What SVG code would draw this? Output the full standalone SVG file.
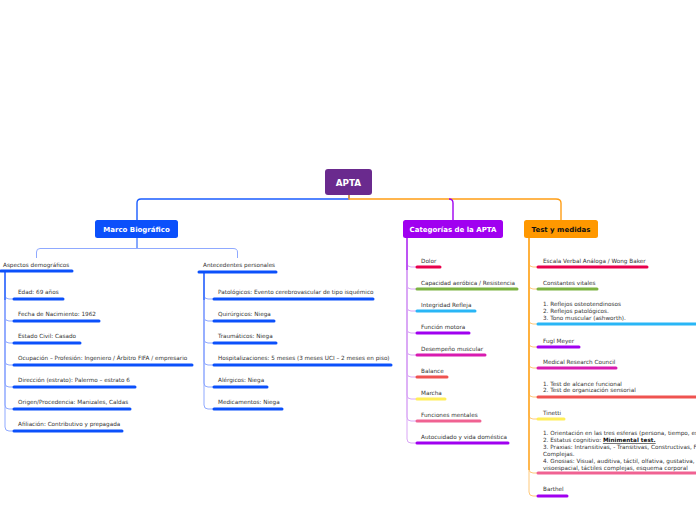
<svg xmlns="http://www.w3.org/2000/svg" width="696" height="520" viewBox="0 0 696 520">
<style>
.t{font-family:"DejaVu Sans",Verdana,sans-serif;font-size:5.7px;fill:#333}
.h{font-family:"DejaVu Sans",Verdana,sans-serif;font-weight:bold;font-size:7px;fill:#fff;text-anchor:middle}
.ul{stroke-width:3;stroke-linecap:round;fill:none}
.c{fill:none;stroke-width:1}
.m{fill:none;stroke-width:1.4}
</style>
<rect width="696" height="520" fill="#fff"/>
<g id="connectors">
  <path class="m" d="M349 195V199H141Q137 199 137 203V220" stroke="#1a5cff"/>
  <path class="m" d="M349 195V199H556Q561 199 561 203V220" stroke="#ff9d14"/>
  <path class="m" d="M449 199Q453 199 453 203V220" stroke="#a000f0"/>
  <path class="c" d="M137 238V248" stroke="#0b50fb"/>
  <path class="c" d="M36.5 258V252Q36.5 248.5 40 248.5H233Q237.5 248.5 237.5 252V258" stroke="#8fa9ff"/>
  <g stroke="#8fa9ff" class="c">
    <path d="M5 271V295Q5 299 9 299H13"/>
    <path d="M5 271V317Q5 321 9 321H13"/>
    <path d="M5 271V339Q5 343 9 343H13"/>
    <path d="M5 271V361Q5 365 9 365H13"/>
    <path d="M5 271V383Q5 387 9 387H13"/>
    <path d="M5 271V405Q5 409 9 409H13"/>
    <path d="M5 271V427Q5 431 9 431H13"/>
    <path d="M204 272V295Q204 299 208 299H213"/>
    <path d="M204 272V317Q204 321 208 321H213"/>
    <path d="M204 272V339Q204 343 208 343H213"/>
    <path d="M204 272V361Q204 365 208 365H213"/>
    <path d="M204 272V383Q204 387 208 387H213"/>
    <path d="M204 272V405Q204 409 208 409H213"/>
  </g>
  <path class="c" d="M5 271V300" stroke="#0b50fb" stroke-width="1.5"/>
  <path class="c" d="M204 272V300" stroke="#0b50fb" stroke-width="1.5"/>
  <g stroke="#d9a6f5" class="c">
    <path d="M407 238V263Q407 267 411 267H416"/>
    <path d="M407 238V285Q407 289 411 289H416"/>
    <path d="M407 238V307Q407 311 411 311H416"/>
    <path d="M407 238V329Q407 333 411 333H416"/>
    <path d="M407 238V351Q407 355 411 355H416"/>
    <path d="M407 238V373Q407 377 411 377H416"/>
    <path d="M407 238V395Q407 399 411 399H416"/>
    <path d="M407 238V417Q407 421 411 421H416"/>
    <path d="M407 238V439Q407 443 411 443H416"/>
  </g>
  <path class="c" d="M407 238V270" stroke="#a000f0" stroke-width="1.2"/>
  <g stroke="#ffc97a" class="c">
    <path d="M529 238V263Q529 267 533 267H537"/>
    <path d="M529 238V285Q529 289 533 289H537"/>
    <path d="M529 238V320Q529 324 533 324H537"/>
    <path d="M529 238V343Q529 347 533 347H537"/>
    <path d="M529 238V364Q529 368 533 368H537"/>
    <path d="M529 238V393Q529 397 533 397H537"/>
    <path d="M529 238V415Q529 419 533 419H537"/>
    <path d="M529 238V469Q529 473 533 473H537"/>
    <path d="M529 238V492Q529 496 533 496H537"/>
  </g>
  <path class="c" d="M529 238V470" stroke="#ff9800" stroke-width="1.2"/>
</g>
<g id="root">
  <rect x="325" y="169" width="47" height="26" rx="3" fill="#6a2a8e"/>
  <text class="h" x="348.5" y="185.5" style="font-size:8.8px">APTA</text>
</g>
<g id="marco">
  <rect x="95" y="220" width="83" height="18" rx="2.5" fill="#0b50fb"/>
  <text class="h" x="136.5" y="231.8">Marco Biográfico</text>
</g>
<g id="categorias">
  <rect x="403" y="220" width="100" height="18" rx="2.5" fill="#a000f0"/>
  <text class="h" x="453" y="231.8">Categorías de la APTA</text>
</g>
<g id="test">
  <rect x="524" y="220" width="74" height="18" rx="2.5" fill="#ff9800"/>
  <text class="h" x="561" y="231.8" style="fill:#111">Test y medidas</text>
</g>
<g id="aspectos">
  <text class="t" x="3" y="267">Aspectos demográficos</text>
  <path class="ul" d="M1 271H72" stroke="#0b50fb"/>
</g>
<g id="edad"><text class="t" x="18" y="294">Edad: 69 años</text><path class="ul" d="M14 299H63" stroke="#0b50fb"/></g>
<g id="fecha"><text class="t" x="18" y="316">Fecha de Nacimiento: 1962</text><path class="ul" d="M14 321H99" stroke="#0b50fb"/></g>
<g id="civil"><text class="t" x="18" y="338">Estado Civil: Casado</text><path class="ul" d="M14 343H80" stroke="#0b50fb"/></g>
<g id="ocupacion"><text class="t" x="18" y="360">Ocupación – Profesión: Ingeniero / Árbitro FIFA / empresario</text><path class="ul" d="M14 365H192" stroke="#0b50fb"/></g>
<g id="direccion"><text class="t" x="18" y="382">Dirección (estrato): Palermo – estrato 6</text><path class="ul" d="M14 387H135" stroke="#0b50fb"/></g>
<g id="origen"><text class="t" x="18" y="404">Origen/Procedencia: Manizales, Caldas</text><path class="ul" d="M14 409H130" stroke="#0b50fb"/></g>
<g id="afiliacion"><text class="t" x="18" y="426">Afiliación: Contributivo y prepagada</text><path class="ul" d="M14 431H122" stroke="#0b50fb"/></g>
<g id="antecedentes">
  <text class="t" x="203" y="267">Antecedentes personales</text>
  <path class="ul" d="M199 272H276" stroke="#0b50fb"/>
</g>
<g id="patologicos"><text class="t" x="218" y="294">Patológicos: Evento cerebrovascular de tipo isquémico</text><path class="ul" d="M214 299H373" stroke="#0b50fb"/></g>
<g id="quirurgicos"><text class="t" x="218" y="316">Quirúrgicos: Niega</text><path class="ul" d="M214 321H274" stroke="#0b50fb"/></g>
<g id="traumaticos"><text class="t" x="218" y="338">Traumáticos: Niega</text><path class="ul" d="M214 343H276" stroke="#0b50fb"/></g>
<g id="hospitalizaciones"><text class="t" x="218" y="360">Hospitalizaciones: 5 meses (3 meses UCI – 2 meses en piso)</text><path class="ul" d="M214 365H391" stroke="#0b50fb"/></g>
<g id="alergicos"><text class="t" x="218" y="382">Alérgicos: Niega</text><path class="ul" d="M214 387H267" stroke="#0b50fb"/></g>
<g id="medicamentos"><text class="t" x="218" y="404">Medicamentos: Niega</text><path class="ul" d="M214 409H282" stroke="#0b50fb"/></g>
<g id="dolor"><text class="t" x="421" y="262.5">Dolor</text><path class="ul" d="M417 267H440" stroke="#e8004c"/></g>
<g id="capacidad"><text class="t" x="421" y="284.5">Capacidad aeróbica / Resistencia</text><path class="ul" d="M417 289H517" stroke="#7cb342"/></g>
<g id="integridad"><text class="t" x="421" y="306.5">Integridad Refleja</text><path class="ul" d="M417 311H475" stroke="#29b6f6"/></g>
<g id="funcion"><text class="t" x="421" y="328.5">Función motora</text><path class="ul" d="M417 333H469" stroke="#a000f0"/></g>
<g id="desempeno"><text class="t" x="421" y="350.5">Desempeño muscular</text><path class="ul" d="M417 355H485" stroke="#d81bb0"/></g>
<g id="balance"><text class="t" x="421" y="372.5">Balance</text><path class="ul" d="M417 377H447" stroke="#ef5350"/></g>
<g id="marcha"><text class="t" x="421" y="394.5">Marcha</text><path class="ul" d="M417 399H445" stroke="#ffee58"/></g>
<g id="mentales"><text class="t" x="421" y="416.5">Funciones mentales</text><path class="ul" d="M417 421H480" stroke="#f06292"/></g>
<g id="autocuidado"><text class="t" x="421" y="438.5">Autocuidado y vida doméstica</text><path class="ul" d="M417 443H508" stroke="#a000f0"/></g>
<g id="escala"><text class="t" x="543" y="262.5">Escala Verbal Análoga / Wong Baker</text><path class="ul" d="M538 267H647" stroke="#e8004c"/></g>
<g id="constantes"><text class="t" x="543" y="284.5">Constantes vitales</text><path class="ul" d="M538 289H597" stroke="#7cb342"/></g>
<g id="reflejos">
  <text class="t" x="543" y="306">1. Reflejos osteotendinosos</text>
  <text class="t" x="543" y="313">2. Reflejos patológicos.</text>
  <text class="t" x="543" y="320">3. Tono muscular (ashworth).</text>
  <path class="ul" d="M538 324H700" stroke="#29b6f6"/>
</g>
<g id="fugl"><text class="t" x="543" y="342.5">Fugl Meyer</text><path class="ul" d="M538 347H579" stroke="#a000f0"/></g>
<g id="mrc"><text class="t" x="543" y="363.5">Medical Research Council</text><path class="ul" d="M538 368H616" stroke="#d81bb0"/></g>
<g id="alcance">
  <text class="t" x="543" y="385.5">1. Test de alcance funcional</text>
  <text class="t" x="543" y="392">2. Test de organización sensorial</text>
  <path class="ul" d="M538 397H700" stroke="#ef5350"/>
</g>
<g id="tinetti"><text class="t" x="543" y="414.5">Tinetti</text><path class="ul" d="M538 419H564" stroke="#ffee58"/></g>
<g id="mental">
  <text class="t" x="543" y="435">1. Orientación en las tres esferas (persona, tiempo, espacio)</text>
  <text class="t" x="543" y="442">2. Estatus cognitivo: <tspan font-weight="bold" text-decoration="underline" fill="#111">Minimental test.</tspan></text>
  <text class="t" x="543" y="449">3. Praxias: Intransitivas, - Transitivas, Constructivas, Finas y</text>
  <text class="t" x="543" y="456">Complejas.</text>
  <text class="t" x="543" y="463">4. Gnosias: Visual, auditiva, táctil, olfativa, gustativa, cinestésica,</text>
  <text class="t" x="543" y="470">visoespacial, táctiles complejas, esquema corporal</text>
  <path class="ul" d="M538 473H700" stroke="#f06292"/>
</g>
<g id="barthel"><text class="t" x="543" y="491">Barthel</text><path class="ul" d="M538 496H567" stroke="#a000f0"/></g>
</svg>
